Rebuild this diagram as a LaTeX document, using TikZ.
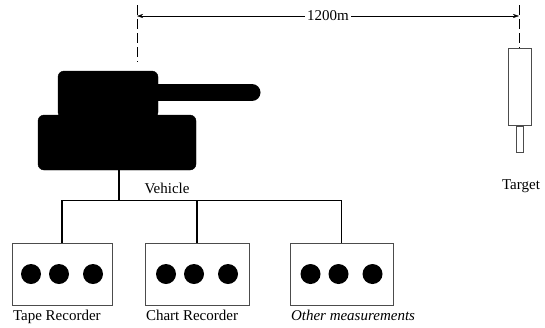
\documentclass[tikz,border=0pt]{standalone}
\usepackage{fontspec}
\setmainfont{Liberation Serif}
\usepackage{tikz}
\usetikzlibrary{arrows.meta,positioning,calc}

\tikzset{
  tankpart/.style={fill=black, draw=black, rounded corners=6pt, inner sep=0pt},
  unitbox/.style={draw=black!70, thin, inner sep=0pt, minimum height=62pt},
  knob/.style={fill=black, circle, minimum size=20pt, inner sep=0pt},
  wire/.style={black, line width=1.1pt},
  sightline/.style={black, thin, dash pattern=on 10pt off 4pt},
  lbl/.style={font=\fontsize{15}{17}\selectfont, inner sep=1pt}
}

\begin{document}
\begin{tikzpicture}[x=1pt, y=-1pt]
  \useasboundingbox (0,0) rectangle (545,327);

  % the vehicle
  \node[tankpart, minimum width=100pt, minimum height=47pt] (turret) at (108,94.5) {};
  \node[tankpart, minimum width=158pt, minimum height=55pt] (hull) at (117,142.5) {};
  \draw[black, line width=17pt, line cap=round] (turret.center -| turret.east) ++(0,-2) -- (252,92.5);
  \node[lbl] (vehlbl) at (167,188) {Vehicle};

  % the target on its post
  \node[draw=black!70, thin, minimum width=23pt, minimum height=77pt, inner sep=0pt] (target) at (520,87) {};
  \node[draw=black!70, thin, minimum width=7pt, minimum height=26pt, inner sep=0pt, below=0pt of target] (post) {};
  \node[lbl] (tgtlbl) at (521,186) {Target};

  % range between them
  \coordinate (gunline) at (137,5);
  \coordinate (tgtline) at (519,5);
  \draw[sightline] (gunline) -- (137,62);
  \draw[sightline] (tgtline) -- (519,48);
  \draw[black, thin, {Stealth[length=6pt,width=4pt]}-{Stealth[length=6pt,width=4pt]}]
    (137,16) -- node[lbl, fill=white, inner sep=2pt] (range) {1200m} (519,16);

  % recording units
  \node[unitbox, minimum width=100pt] (tape) at (62,274) {};
  \node[unitbox, minimum width=104pt] (chart) at (197,274) {};
  \node[unitbox, minimum width=103pt] (other) at (341.5,274) {};
  \foreach \u in {tape,chart,other}
    \foreach \dx in {-31,-3,31}
      \node[knob] at ($(\u.center)+(\dx,0)$) {};

  \node[lbl, anchor=north west] (tapelbl) at ([yshift=-4pt]tape.south west) {Tape Recorder};
  \node[lbl, anchor=north west] (chartlbl) at ([yshift=-4pt]chart.south west) {Chart Recorder};
  \node[lbl, anchor=north west] (otherlbl) at ([yshift=-4pt]other.south west) {\itshape Other measurements};

  % wiring
  \coordinate (bus) at (119,200.5);
  \draw[wire] (hull.south -| bus) -- (bus);
  \draw[wire] (tape.north) |- (other.north |- bus) -- (other.north);
  \draw[wire] (chart.north |- bus) -- (chart.north);
\end{tikzpicture}
\end{document}
